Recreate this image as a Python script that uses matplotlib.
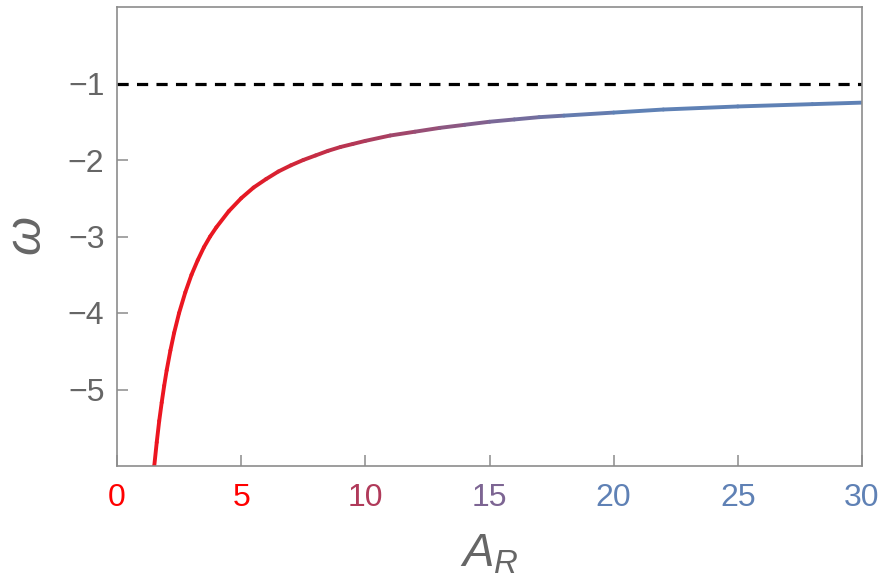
import numpy as np
import matplotlib
matplotlib.use("Agg")
import matplotlib.pyplot as plt
from matplotlib.collections import LineCollection
from matplotlib.colors import LinearSegmentedColormap, Normalize

# Data
a_r = [1.45, 1.5, 1.6, 1.7, 1.8, 1.9, 2.0, 2.15, 2.3, 2.5, 2.75, 3.0, 3.25, 3.5, 3.75, 4.0, 4.5,
       5.0, 5.5, 6.0, 6.5, 7.0, 7.5, 8.0, 8.5, 9.0, 9.5, 10.0, 11.0, 12.0, 13.0, 14.0, 15.0,
       16.0, 17.0, 18.0, 20.0, 22.0, 25.0, 28.0, 30.0]
omega = [-6.17, -6.0, -5.69, -5.41, -5.17, -4.95, -4.75, -4.49, -4.26, -4.0, -3.73, -3.5,
         -3.31, -3.14, -3.0, -2.88, -2.67, -2.5, -2.36, -2.25, -2.15, -2.07, -2.0, -1.94,
         -1.88, -1.83, -1.79, -1.75, -1.68, -1.63, -1.58, -1.54, -1.5, -1.47, -1.44, -1.42,
         -1.38, -1.34, -1.30, -1.27, -1.25]
asymptote = -1.0
x_ticks = [0, 5, 10, 15, 20, 25, 30]
y_ticks = [-1, -2, -3, -4, -5]
y_tick_labels = ["\u22121", "\u22122", "\u22123", "\u22124", "\u22125"]
x_tick_colors = ["#ff0000", "#ff0000", "#b03a5a", "#7d6593", "#5f81b5", "#5f81b5", "#5f81b5"]

# gradient anchors along A_R
grad_pos = [0, 5, 10, 15, 20, 30]
grad_cols = ["#ee1520", "#e81822", "#b03a5a", "#7d6593", "#5f81b5", "#5f81b5"]

plt.rcParams['font.family'] = ['Liberation Sans', 'DejaVu Sans']
plt.rcParams['mathtext.fontset'] = 'custom'
plt.rcParams['mathtext.it'] = 'Liberation Sans:italic'
plt.rcParams['mathtext.rm'] = 'Liberation Sans'

fig = plt.figure(figsize=(8.82, 5.86), dpi=100)
ax = fig.add_axes([117/882, 1-466/586, (862-117)/882, (466-7)/586])

ax.set_xlim(0, 30)
ax.set_ylim(-6, 0)

# gradient curve
x = np.array(a_r); y = np.array(omega)
pts = np.column_stack([x, y]).reshape(-1, 1, 2)
segs = np.concatenate([pts[:-1], pts[1:]], axis=1)
cmap = LinearSegmentedColormap.from_list(
    "g", [(p/30, c) for p, c in zip(grad_pos, grad_cols)])
mids = (x[:-1] + x[1:]) / 2
lc = LineCollection(segs, colors=cmap(Normalize(0, 30)(mids)), linewidths=2.8,
                    capstyle='round', joinstyle='round')
ax.add_collection(lc)

ax.axhline(asymptote, color='black', lw=2.3, linestyle=(0, (3.5, 2.6)))

spine_col = "#8c8c8c"
for s in ax.spines.values():
    s.set_color(spine_col)
    s.set_linewidth(1.2)

ax.set_xticks(x_ticks)
ax.set_xticklabels([str(t) for t in x_ticks])
ax.set_yticks(y_ticks)
ax.set_yticklabels(y_tick_labels)
ax.tick_params(direction='in', length=8, width=1.1, color=spine_col,
               labelsize=23, labelcolor="#666666", pad=9)
ax.tick_params(axis='x', pad=12)
for lab, c in zip(ax.get_xticklabels(), x_tick_colors):
    lab.set_color(c)
ax.tick_params(top=False, right=False)

ax.set_xlabel(r"$A_R$", fontsize=34, color="#666666", labelpad=14)
ax.set_ylabel(r"$\omega$", fontsize=36, color="#666666", labelpad=12)

fig.savefig("out.png", dpi=100)
